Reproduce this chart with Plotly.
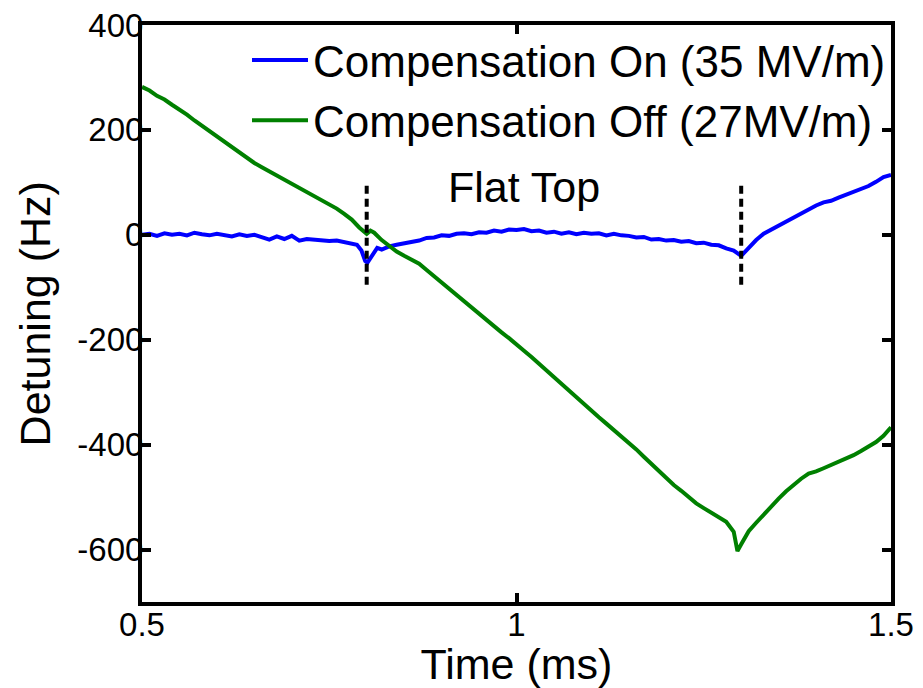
import plotly.graph_objects as go

# Time axis (ms) and measured detuning (Hz)
time_on = [0.50, 0.51, 0.52, 0.53, 0.54, 0.55, 0.56, 0.57, 0.58, 0.59,
           0.60, 0.61, 0.62, 0.63, 0.64, 0.65, 0.66, 0.67, 0.68, 0.69,
           0.70, 0.71, 0.72, 0.73, 0.74, 0.75, 0.76, 0.77, 0.78, 0.787,
           0.793, 0.798, 0.801, 0.805, 0.81, 0.814, 0.82, 0.83, 0.84, 0.85,
           0.86, 0.87, 0.88, 0.89, 0.90, 0.91, 0.92, 0.93, 0.94, 0.95,
           0.96, 0.97, 0.98, 0.99, 1.00, 1.01, 1.02, 1.03, 1.04, 1.05,
           1.06, 1.07, 1.08, 1.09, 1.10, 1.11, 1.12, 1.13, 1.14, 1.15,
           1.16, 1.17, 1.18, 1.19, 1.20, 1.21, 1.22, 1.23, 1.24, 1.25,
           1.26, 1.27, 1.28, 1.29, 1.30, 1.31, 1.32, 1.33, 1.34, 1.35,
           1.36, 1.37, 1.38, 1.39, 1.40, 1.41, 1.42, 1.43, 1.44, 1.45,
           1.46, 1.47, 1.48, 1.49, 1.50]
detuning_on = [0, 2, -2, 3, 0, 2, -1, 4, 1, -1,
               2, 0, -3, 1, -2, 0, -5, -9, -3, -8,
               -2, -11, -8, -9, -10, -12, -11, -14, -17, -19,
               -30, -50, -53, -45, -32, -25, -28, -22, -19, -16,
               -13, -11, -6, -5, -1, -2, 2, 3, 1, 5,
               4, 8, 6, 10, 9, 11, 7, 8, 4, 6,
               2, 5, 1, 4, 2, 3, -1, 2, -1, -2,
               -5, -4, -9, -8, -11, -10, -13, -12, -16, -15,
               -19, -20, -26, -30, -40, -24, -10, 2, 10, 17,
               25, 33, 42, 50, 56, 62, 65, 71, 76, 82,
               87, 93, 101, 110, 114]

time_off = [0.50, 0.51, 0.52, 0.53, 0.54, 0.55, 0.56, 0.57, 0.58, 0.59,
            0.60, 0.61, 0.62, 0.63, 0.64, 0.65, 0.66, 0.67, 0.68, 0.69,
            0.70, 0.71, 0.72, 0.73, 0.74, 0.75, 0.76, 0.77, 0.78, 0.79,
            0.80, 0.805, 0.81, 0.82, 0.83, 0.84, 0.85, 0.86, 0.87, 0.88,
            0.89, 0.90, 0.91, 0.92, 0.93, 0.94, 0.95, 0.96, 0.97, 0.98,
            0.99, 1.00, 1.01, 1.02, 1.03, 1.04, 1.05, 1.06, 1.07, 1.08,
            1.09, 1.10, 1.11, 1.12, 1.13, 1.14, 1.15, 1.16, 1.17, 1.18,
            1.19, 1.20, 1.21, 1.22, 1.23, 1.24, 1.25, 1.26, 1.27, 1.28,
            1.29, 1.295, 1.30, 1.31, 1.32, 1.33, 1.34, 1.35, 1.36, 1.37,
            1.38, 1.39, 1.40, 1.41, 1.42, 1.43, 1.44, 1.45, 1.46, 1.47,
            1.48, 1.49, 1.50]
detuning_off = [282, 275, 265, 258, 248, 239, 229, 218, 208, 197,
                187, 177, 166, 156, 146, 137, 129, 121, 113, 105,
                98, 91, 83, 75, 66, 58, 50, 40, 29, 14,
                2, 8, 4, -10, -22, -32, -40, -47, -55, -67,
                -79, -91, -102, -115, -128, -140, -151, -163, -174, -186,
                -197, -208, -221, -233, -246, -258, -271, -283, -296, -309,
                -322, -335, -348, -360, -372, -384, -396, -409, -423, -437,
                -451, -465, -477, -488, -500, -512, -521, -530, -538, -547,
                -566, -603, -590, -565, -549, -533, -518, -503, -489, -476,
                -465, -455, -451, -445, -439, -433, -427, -420, -412, -404,
                -395, -383, -367]

# Flat-top boundaries (ms) and marker extent (Hz)
flat_top_edges = [0.8, 1.3]
marker_span = [-95, 95]
flat_top_label = (1.01, 91)

x_ticks = [0.5, 1, 1.5]
x_ticklabels = ["0.5", "1", "1.5"]
y_ticks = [-600, -400, -200, 0, 200, 400]
y_ticklabels = ["-600", "-400", "-200", "0", "200", "400"]

FONT = "Liberation Sans, Arial, Helvetica, sans-serif"

fig = go.Figure()
fig.add_trace(go.Scatter(x=time_on, y=detuning_on, mode="lines",
                         name="Compensation On (35 MV/m)",
                         line=dict(color="#0000FF", width=4)))
fig.add_trace(go.Scatter(x=time_off, y=detuning_off, mode="lines",
                         name="Compensation Off (27MV/m)",
                         line=dict(color="#008000", width=4)))
for edge in flat_top_edges:
    fig.add_trace(go.Scatter(x=[edge, edge], y=marker_span, mode="lines",
                             showlegend=False, hoverinfo="skip",
                             line=dict(color="black", width=4, dash="8px,5px")))

fig.add_annotation(x=flat_top_label[0], y=flat_top_label[1], text="Flat Top",
                   showarrow=False, font=dict(size=43, color="black", family=FONT))

# Vertical axis title, placed a fixed distance left of the tick labels
fig.add_annotation(x=-0.143, y=0.5, xref="paper", yref="paper", text="Detuning (Hz)",
                   textangle=-90, showarrow=False, xanchor="center", yanchor="middle",
                   font=dict(size=43, color="black", family=FONT))

axis_common = dict(showline=True, linecolor="black", linewidth=4, mirror="allticks",
                   ticks="inside", ticklen=9, tickwidth=4, tickcolor="black",
                   showgrid=False, zeroline=False, automargin=False,
                   tickfont=dict(size=33, color="black", family=FONT))

fig.update_xaxes(range=[0.5, 1.5], tickvals=x_ticks, ticktext=x_ticklabels,
                 ticklabelstandoff=-10,
                 title=dict(text="Time (ms)", font=dict(size=43, color="black", family=FONT),
                            standoff=0),
                 **axis_common)
fig.update_yaxes(range=[-700, 400], tickvals=y_ticks, ticktext=y_ticklabels,
                 ticklabelstandoff=-12,
                 **axis_common)

fig.update_layout(
    width=923, height=688,
    margin=dict(l=142, r=32, t=25, b=86),
    plot_bgcolor="white", paper_bgcolor="white",
    font=dict(family=FONT, color="black"),
    legend=dict(x=1.0, xanchor="right", y=1.0, yanchor="top",
                bgcolor="rgba(0,0,0,0)", borderwidth=0,
                font=dict(size=44, color="black", family=FONT),
                itemwidth=56, tracegroupgap=0),
)

fig.write_html("out.html")
